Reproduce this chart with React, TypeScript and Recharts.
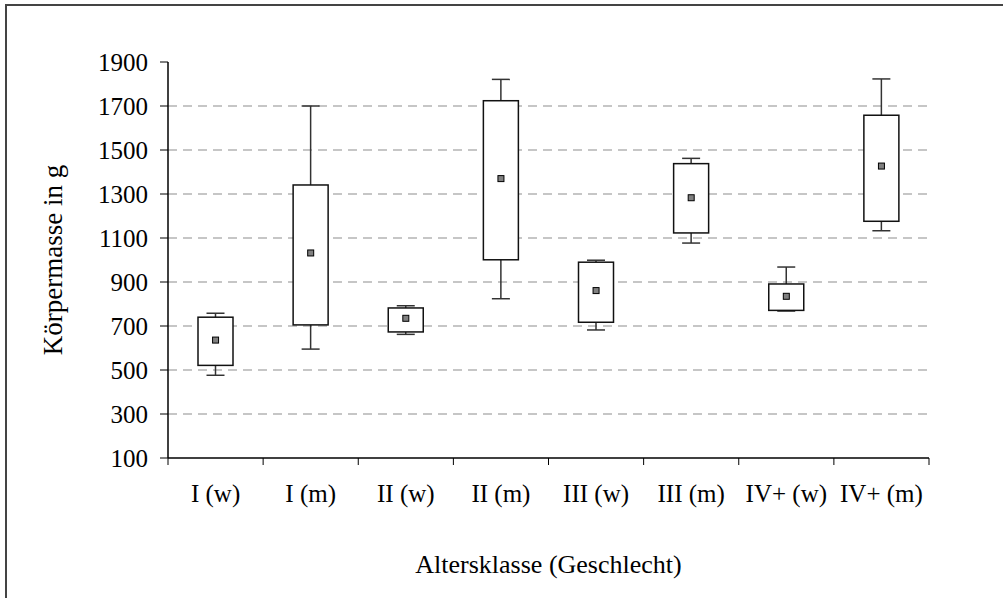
import React from "react";
import {
  ComposedChart, Bar, Scatter, XAxis, YAxis, CartesianGrid,
} from "recharts";

// Körpermasse je Altersklasse / Geschlecht — Boxplot (min, Q1, Q3, max, Mittelwert)
const categories = ["I (w)", "I (m)", "II (w)", "II (m)", "III (w)", "III (m)", "IV+ (w)", "IV+ (m)"];
const minValues  = [476, 595, 662, 824, 682, 1077, 768, 1133];
const q1Values   = [521, 705, 673, 1001, 717, 1123, 771, 1176];
const q3Values   = [740, 1341, 782, 1724, 990, 1438, 891, 1658];
const maxValues  = [758, 1700, 792, 1821, 999, 1462, 968, 1823];
const meanValues = [636, 1032, 735, 1370, 861, 1283, 835, 1427];

const yTicks     = [100, 300, 500, 700, 900, 1100, 1300, 1500, 1700, 1900];
const gridValues = [300, 500, 700, 900, 1100, 1300, 1500, 1700];
// integer ticks = Excel-style marks between categories, half ticks = category labels
const xTicks = [0, 0.5, 1, 1.5, 2, 2.5, 3, 3.5, 4, 4.5, 5, 5.5, 6, 6.5, 7, 7.5, 8];

const data = categories.map((name, i) => ({
  name,
  pos: i + 0.5,
  range: [minValues[i], maxValues[i]],
  min: minValues[i],
  q1: q1Values[i],
  q3: q3Values[i],
  max: maxValues[i],
  mean: meanValues[i],
}));

const FONT = "'Times New Roman', 'Liberation Serif', serif";
const CAP = 18;

// draws whiskers + box inside the [min,max] bar rectangle given by recharts
function BoxShape(props: any) {
  const { x, y, width, height, payload } = props;
  if (height == null || !payload) return null;
  const { min, q1, q3, max } = payload;
  const toY = (v: number) => y + ((max - v) / (max - min)) * height;
  const cx = x + width / 2;
  const yMax = toY(max), yQ3 = toY(q3), yQ1 = toY(q1), yMin = toY(min);
  return (
    <g>
      <line x1={cx} x2={cx} y1={yMax} y2={yQ3} stroke="#333" strokeWidth={1.5} />
      <line x1={cx} x2={cx} y1={yQ1} y2={yMin} stroke="#333" strokeWidth={1.5} />
      <line x1={cx - CAP / 2} x2={cx + CAP / 2} y1={yMax} y2={yMax} stroke="#333" strokeWidth={1.5} />
      <line x1={cx - CAP / 2} x2={cx + CAP / 2} y1={yMin} y2={yMin} stroke="#333" strokeWidth={1.5} />
      <rect x={x} y={yQ3} width={width} height={yQ1 - yQ3} fill="#fff" stroke="#111" strokeWidth={1.5} />
    </g>
  );
}

function MeanMarker(props: any) {
  const { cx, cy } = props;
  return <rect x={cx - 3} y={cy - 3} width={6} height={6} fill="#808080" stroke="#000" strokeWidth={1} />;
}

function XTick(props: any) {
  const { x, y, payload } = props;
  const v = payload.value;
  if (Number.isInteger(v)) {
    return <line x1={x} x2={x} y1={y} y2={y + 7} stroke="#000" strokeWidth={1} />;
  }
  return (
    <text x={x} y={y + 26} dy="0.71em" textAnchor="middle" fill="#000" fontSize={25} fontFamily={FONT}>
      {categories[Math.floor(v)]}
    </text>
  );
}

export default function App() {
  return (
    <div style={{ position: "absolute", left: 0, top: 0, width: 1003, height: 598, overflow: "hidden", background: "#fff" }}>
      <div
        style={{
          position: "absolute", left: 5, top: 4, width: 1100, height: 700,
          borderLeft: "2px solid #444", borderTop: "2px solid #444",
        }}
      />
      <ComposedChart
        width={1003}
        height={598}
        data={data}
        margin={{ top: 62, right: 74, bottom: 0, left: 0 }}
        barSize={35}
        style={{ position: "absolute", left: 0, top: 0 }}
      >
        <CartesianGrid
          vertical={false}
          horizontalValues={gridValues}
          stroke="#b4b4b4"
          strokeWidth={1.5}
          strokeDasharray="9 6"
        />
        <XAxis
          dataKey="pos"
          type="number"
          domain={[0, 8]}
          ticks={xTicks}
          interval={0}
          height={140}
          tickSize={0}
          tickMargin={0}
          tickLine={false}
          axisLine={{ stroke: "#000", strokeWidth: 1.5 }}
          tick={<XTick />}
          label={{
            value: "Altersklasse (Geschlecht)",
            position: "insideBottom",
            offset: 25,
            style: { fill: "#000", fontSize: 26, fontFamily: FONT },
          }}
        />
        <YAxis
          domain={[100, 1900]}
          ticks={yTicks}
          interval={0}
          width={168}
          tickSize={8}
          tickMargin={12}
          axisLine={{ stroke: "#000", strokeWidth: 1.5 }}
          tickLine={{ stroke: "#000", strokeWidth: 1 }}
          tick={{ fill: "#000", fontSize: 25, fontFamily: FONT }}
          label={{
            value: "Körpermasse in g",
            angle: -90,
            position: "insideLeft",
            offset: 52,
            style: { fill: "#000", fontSize: 27, fontFamily: FONT, textAnchor: "middle" },
          }}
        />
        <Bar dataKey="range" shape={<BoxShape />} isAnimationActive={false} />
        <Scatter dataKey="mean" shape={<MeanMarker />} isAnimationActive={false} />
      </ComposedChart>
    </div>
  );
}
